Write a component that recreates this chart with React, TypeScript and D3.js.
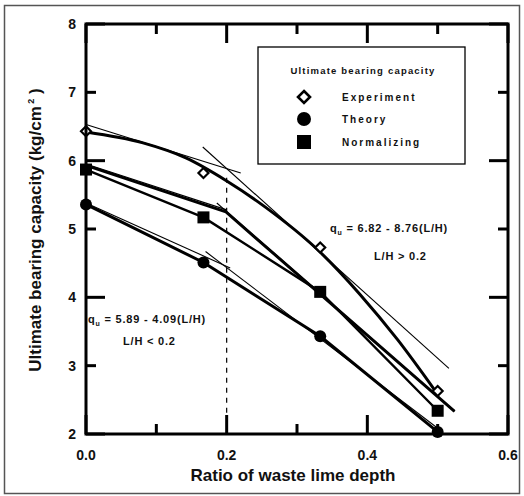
import React from "react";
import * as d3 from "d3";

const W = 524;
const H = 496;

// Data
const ratios = [0, 0.167, 0.333, 0.5];
const experiment = [6.43, 5.82, 4.73, 2.63];
const theory = [5.36, 4.51, 3.43, 2.03];
const normalizing = [5.87, 5.17, 4.08, 2.34];

// Experiment smooth fitted curve
const expCurveX = [0, 0.081, 0.142, 0.199, 0.255, 0.329, 0.389, 0.443, 0.498];
const expCurveY = [6.42, 6.26, 6.04, 5.71, 5.32, 4.7, 4.05, 3.38, 2.61];

// Normalizing bilinear line
const normBiX = [0, 0.199, 0.524];
const normBiY = [5.93, 5.25, 2.33];

// Thin fitted straight lines [x0, y0, x1, y1]
const expFitLow = [0, 6.53, 0.22, 5.82];
const expFitHigh = [0.166, 6.2, 0.516, 2.96];
const normFitLow = [0, 5.95, 0.2, 5.28];
const normFitHigh = [0.186, 5.38, 0.524, 2.33];
const theoryFitLow = [0, 5.38, 0.205, 4.43];
const theoryFitHigh = [0.17, 4.67, 0.502, 2.07];

const xMajor = [0, 0.2, 0.4, 0.6];
const xMinor = [0.1, 0.3, 0.5];
const yMajor = [2, 4, 6, 8];
const yMinor = [3, 5, 7];
const yLabels = [2, 3, 4, 5, 6, 7, 8];

const legendItems = ["Experiment", "Theory", "Normalizing"];

const FONT = "'Liberation Sans', Arial, Helvetica, sans-serif";

export default function App() {
  const xs = d3.scaleLinear().domain([0, 0.6]).range([86, 508]);
  const ys = d3.scaleLinear().domain([2, 8]).range([434, 24]);
  const left = 86;
  const right = 508;
  const bottom = 434;
  const top = 24;

  const line = d3
    .line<[number, number]>()
    .x((d) => xs(d[0]))
    .y((d) => ys(d[1]));
  const curve = d3
    .line<[number, number]>()
    .x((d) => xs(d[0]))
    .y((d) => ys(d[1]))
    .curve(d3.curveMonotoneX);

  const pts = (a: number[], b: number[]) =>
    a.map((v, i) => [v, b[i]] as [number, number]);
  const seg = (s: number[]) =>
    line([
      [s[0], s[1]],
      [s[2], s[3]],
    ]) as string;

  const diamond = (cx: number, cy: number, r: number) =>
    `M${cx},${cy - r}L${cx + r},${cy}L${cx},${cy + r}L${cx - r},${cy}Z`;

  const majorLen = 19;
  const minorLen = 10;

  type Tick = { x1: number; y1: number; x2: number; y2: number; k: string };
  const ticks: Tick[] = [];
  xMajor.forEach((v) => {
    const px = xs(v);
    ticks.push({ x1: px, y1: bottom, x2: px, y2: bottom - majorLen, k: "xb" + v });
    ticks.push({ x1: px, y1: top, x2: px, y2: top + majorLen, k: "xt" + v });
  });
  xMinor.forEach((v) => {
    const px = xs(v);
    ticks.push({ x1: px, y1: bottom, x2: px, y2: bottom - minorLen, k: "xbm" + v });
    ticks.push({ x1: px, y1: top, x2: px, y2: top + minorLen, k: "xtm" + v });
  });
  yMajor.forEach((v) => {
    const py = ys(v);
    ticks.push({ x1: left, y1: py, x2: left + majorLen, y2: py, k: "yl" + v });
    ticks.push({ x1: right, y1: py, x2: right - majorLen, y2: py, k: "yr" + v });
  });
  yMinor.forEach((v) => {
    const py = ys(v);
    ticks.push({ x1: left, y1: py, x2: left + minorLen, y2: py, k: "ylm" + v });
    ticks.push({ x1: right, y1: py, x2: right - minorLen, y2: py, k: "yrm" + v });
  });

  const lx = 304;
  const legendRows = [97, 119, 142];

  return (
    <div style={{ position: "absolute", left: 0, top: 0 }}>
      <svg width={W} height={H} style={{ display: "block", background: "#fff" }}>
        <rect x={4.5} y={5.5} width={515} height={488} fill="none" stroke="#555" strokeWidth={1.5} />

        {/* dashed divider */}
        <line
          x1={xs(0.2)}
          x2={xs(0.2)}
          y1={ys(5.75)}
          y2={bottom}
          stroke="#000"
          strokeWidth={1.2}
          strokeDasharray="5,5"
        />

        {/* thin fit lines */}
        <g fill="none" stroke="#000" strokeWidth={1.1}>
          <path d={seg(expFitLow)} />
          <path d={seg(expFitHigh)} />
          <path d={seg(normFitLow)} />
          <path d={seg(normFitHigh)} />
          <path d={seg(theoryFitLow)} />
          <path d={seg(theoryFitHigh)} />
        </g>

        {/* thick lines */}
        <g fill="none" stroke="#000" strokeWidth={3} strokeLinejoin="round">
          <path d={curve(pts(expCurveX, expCurveY)) as string} />
          <path d={line(pts(normBiX, normBiY)) as string} />
          <path d={line(pts(ratios, normalizing)) as string} strokeWidth={2.4} />
          <path d={line(pts(ratios, theory)) as string} />
        </g>

        {/* markers */}
        {ratios.map((r, i) => (
          <path key={"e" + i} d={diamond(xs(r), ys(experiment[i]), 5)} fill="#fff" stroke="#000" strokeWidth={2.2} />
        ))}
        {ratios.map((r, i) => (
          <circle key={"t" + i} cx={xs(r)} cy={ys(theory[i])} r={6} fill="#000" />
        ))}
        {ratios.map((r, i) => (
          <rect key={"n" + i} x={xs(r) - 6} y={ys(normalizing[i]) - 6} width={12} height={12} fill="#000" />
        ))}

        {/* axis frame and ticks */}
        <rect x={left} y={top} width={right - left} height={bottom - top} fill="none" stroke="#000" strokeWidth={3} />
        {ticks.map((t) => (
          <line key={t.k} x1={t.x1} y1={t.y1} x2={t.x2} y2={t.y2} stroke="#000" strokeWidth={3} />
        ))}

        {/* tick labels */}
        <g fontFamily={FONT} fontWeight="bold" fontSize={14} fill="#111">
          {yLabels.map((v) => (
            <text key={"yl" + v} x={76} y={ys(v) + 5} textAnchor="end">
              {v}
            </text>
          ))}
          {xMajor.map((v) => (
            <text key={"xl" + v} x={xs(v)} y={460} textAnchor="middle">
              {v.toFixed(1)}
            </text>
          ))}
        </g>

        {/* axis titles */}
        <text x={293} y={481} textAnchor="middle" fontFamily={FONT} fontWeight="bold" fontSize={17} fill="#111">
          Ratio of waste lime depth
        </text>
        <text
          transform={`translate(41,230) rotate(-90)`}
          textAnchor="middle"
          fontFamily={FONT}
          fontWeight="bold"
          fontSize={17}
          fill="#111"
        >
          Ultimate bearing capacity (kg/cm
          <tspan fontSize={9} dy={-7}> 2</tspan>
          <tspan dy={7}> )</tspan>
        </text>

        {/* legend */}
        <rect x={258} y={47} width={207} height={117} fill="#fff" stroke="#000" strokeWidth={1.3} />
        <text x={363} y={74} textAnchor="middle" fontFamily={FONT} fontWeight="bold" fontSize={9.5} letterSpacing={1.2} fill="#111">
          Ultimate bearing capacity
        </text>
        <path d={diamond(lx, legendRows[0], 6)} fill="#fff" stroke="#000" strokeWidth={2.6} />
        <circle cx={lx} cy={legendRows[1]} r={7} fill="#000" />
        <rect x={lx - 7} y={legendRows[2] - 7} width={14} height={14} fill="#000" />
        {legendItems.map((t, i) => (
          <text key={t} x={342} y={legendRows[i] + 4} fontFamily={FONT} fontWeight="bold" fontSize={10} letterSpacing={2} fill="#111">
            {t}
          </text>
        ))}

        {/* equations */}
        <g fontFamily={FONT} fontWeight="bold" fontSize={11} fill="#111" letterSpacing={0.8}>
          <text x={330} y={232}>
            q<tspan fontSize={7} dy={3}>u</tspan>
            <tspan dy={-3}> = 6.82 - 8.76(L/H)</tspan>
          </text>
          <text x={374} y={260}>L/H &gt; 0.2</text>
          <text x={88} y={323}>
            q<tspan fontSize={7} dy={3}>u</tspan>
            <tspan dy={-3}> = 5.89 - 4.09(L/H)</tspan>
          </text>
          <text x={123} y={345}>L/H &lt; 0.2</text>
        </g>
      </svg>
    </div>
  );
}
